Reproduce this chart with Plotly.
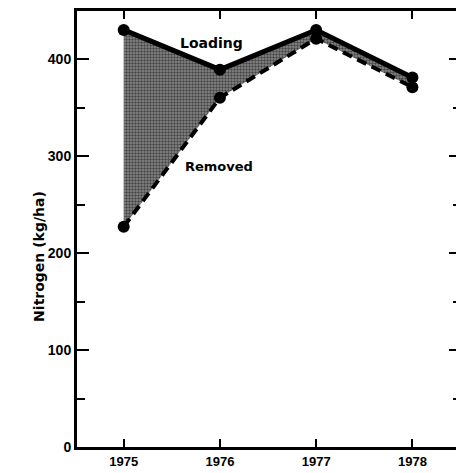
import plotly.graph_objects as go

years = [1975, 1976, 1977, 1978]
loading = [430, 389, 430, 381]
removed = [227, 360, 421, 371]
y_ticks = [0, 100, 200, 300, 400]
x_ticks = [1975, 1976, 1977, 1978]
x_labels = ["1975", "1976", "1977", "1978"]

FONT = "Liberation Sans, Arial, sans-serif"
FONT2 = "DejaVu Sans, sans-serif"

fig = go.Figure()

# base for the shaded band
fig.add_trace(go.Scatter(x=years, y=removed, mode="lines",
                         line=dict(width=0, color="black"), showlegend=False,
                         hoverinfo="skip"))
# loading with stippled band down to removed
fig.add_trace(go.Scatter(x=years, y=loading, mode="lines+markers",
                         fill="tonexty",
                         fillcolor="rgba(0,0,0,0)",
                         fillpattern=dict(shape=".", fgcolor="#000000",
                                          bgcolor="#8c8c8c", size=3,
                                          solidity=0.5),
                         line=dict(color="black", width=5),
                         marker=dict(color="black", size=12),
                         showlegend=False, name="Loading"))
# removed dashed line on top
fig.add_trace(go.Scatter(x=years, y=removed, mode="lines+markers",
                         line=dict(color="black", width=4, dash="10px,6px"),
                         marker=dict(color="black", size=12),
                         showlegend=False, name="Removed"))

fig.add_annotation(x=1975.91, y=416, text="Loading", showarrow=False,
                   font=dict(family=FONT2, size=14, color="black", weight="bold"))
fig.add_annotation(x=1975.99, y=289, text="Removed", showarrow=False,
                   font=dict(family=FONT2, size=13, color="black", weight="bold"))
fig.add_annotation(x=-0.125, xref="paper", y=196, yref="y",
                   text="Nitrogen (kg/ha)", textangle=-90, showarrow=False,
                   font=dict(family=FONT2, size=14, color="black", weight="bold"))

fig.update_xaxes(range=[1974.515, 1978.505], tickvals=x_ticks, ticktext=x_labels,
                 ticks="inside", ticklen=8, tickwidth=2, tickcolor="black",
                 showline=True, linecolor="black", linewidth=3, mirror="ticks",
                 showgrid=False, zeroline=False,
                 tickfont=dict(family=FONT, size=13, color="black", weight="bold"))
fig.update_yaxes(range=[0, 449.5], tickvals=y_ticks,
                 ticks="inside", ticklen=12, tickwidth=2, tickcolor="black",
                 minor=dict(dtick=50, ticks="inside", ticklen=8, tickwidth=2,
                            tickcolor="black", showgrid=False),
                 showline=True, linecolor="black", linewidth=3, mirror="ticks",
                 showgrid=False, zeroline=False, ticklabelstandoff=0,
                 tickfont=dict(family=FONT, size=14, color="black", weight="bold"))

# page body has an 8px margin: shrink the figure and shift margins to match
fig.update_layout(width=456, height=465,
                  margin=dict(l=69, r=0, t=3, b=26),
                  plot_bgcolor="white", paper_bgcolor="white")

fig.write_html("out.html")
